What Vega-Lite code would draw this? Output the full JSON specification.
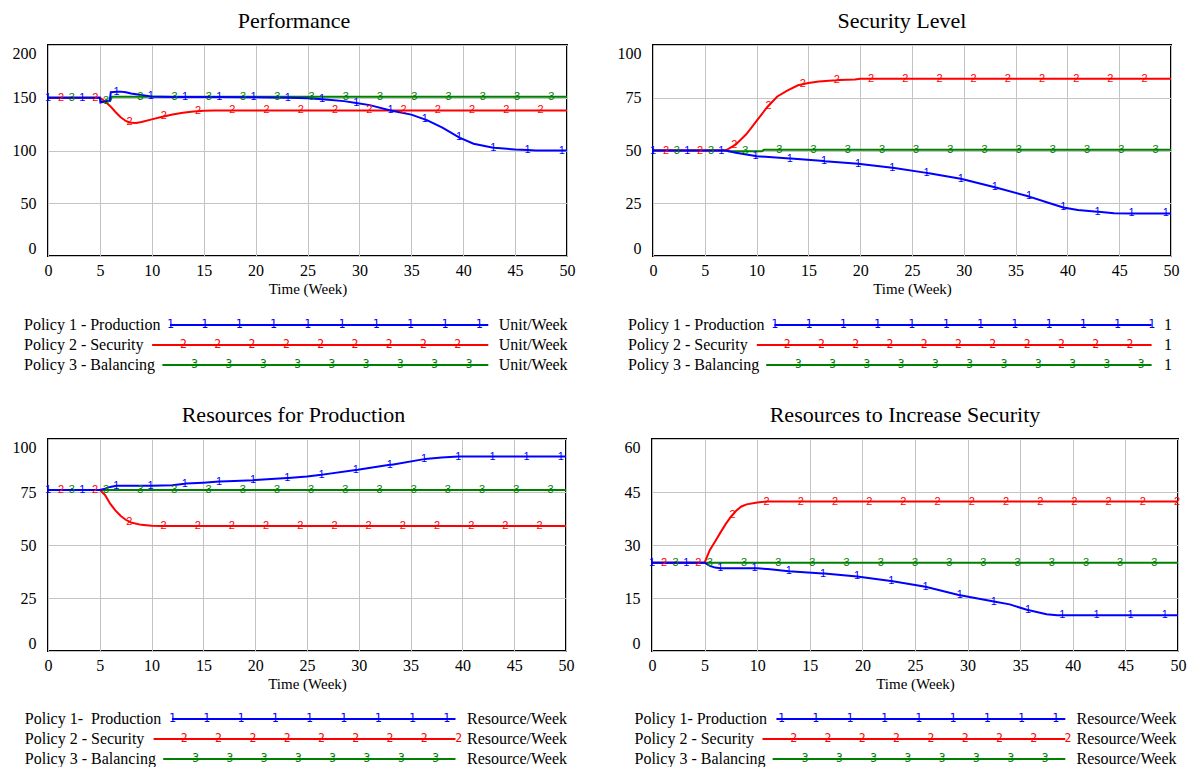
{
  "$schema": "https://vega.github.io/schema/vega-lite/v6.json",
  "padding": {"top": 9, "left": 0, "right": 0, "bottom": 0},
  "background": "white",
  "spacing": 19,
  "datasets": {
    "ts": [
      {"p":"A","s":"1","t":0,"v":150,"m":0},{"p":"A","s":"1","t":5,"v":150,"m":0},{"p":"A","s":"1","t":5.05,"v":145.5,"m":0},{"p":"A","s":"1","t":5.95,"v":147.5,"m":0},{"p":"A","s":"1","t":6.05,"v":155.3,"m":0},{"p":"A","s":"1","t":7,"v":155.8,"m":0},{"p":"A","s":"1","t":7.5,"v":155.2,"m":0},{"p":"A","s":"1","t":8,"v":154,"m":0},{"p":"A","s":"1","t":9,"v":152.5,"m":0},{"p":"A","s":"1","t":10,"v":151.2,"m":0},{"p":"A","s":"1","t":12,"v":150.8,"m":0},{"p":"A","s":"1","t":20,"v":150.5,"m":0},{"p":"A","s":"1","t":23,"v":150,"m":0},{"p":"A","s":"1","t":25,"v":149.6,"m":0},{"p":"A","s":"1","t":27,"v":148,"m":0},{"p":"A","s":"1","t":28.5,"v":146.8,"m":0},{"p":"A","s":"1","t":31,"v":143,"m":0},{"p":"A","s":"1","t":33,"v":138,"m":0},{"p":"A","s":"1","t":35,"v":134,"m":0},{"p":"A","s":"1","t":36.5,"v":128.8,"m":0},{"p":"A","s":"1","t":38,"v":121.7,"m":0},{"p":"A","s":"1","t":39.7,"v":112,"m":0},{"p":"A","s":"1","t":41,"v":106.4,"m":0},{"p":"A","s":"1","t":43,"v":102.5,"m":0},{"p":"A","s":"1","t":45,"v":101,"m":0},{"p":"A","s":"1","t":47,"v":100,"m":0},{"p":"A","s":"1","t":50,"v":100,"m":0},
      {"p":"A","s":"1","t":0,"v":150,"m":1},{"p":"A","s":"1","t":3.3,"v":150,"m":1},{"p":"A","s":"1","t":6.6,"v":155.6,"m":1},{"p":"A","s":"1","t":9.9,"v":151.3,"m":1},{"p":"A","s":"1","t":13.2,"v":150.8,"m":1},{"p":"A","s":"1","t":16.5,"v":150.6,"m":1},{"p":"A","s":"1","t":19.8,"v":150.5,"m":1},{"p":"A","s":"1","t":23.1,"v":150,"m":1},{"p":"A","s":"1","t":26.4,"v":148.5,"m":1},{"p":"A","s":"1","t":29.7,"v":145,"m":1},{"p":"A","s":"1","t":33,"v":138,"m":1},{"p":"A","s":"1","t":36.3,"v":129.5,"m":1},{"p":"A","s":"1","t":39.6,"v":112.5,"m":1},{"p":"A","s":"1","t":42.9,"v":102.6,"m":1},{"p":"A","s":"1","t":46.2,"v":100.5,"m":1},{"p":"A","s":"1","t":49.5,"v":100,"m":1},
      {"p":"A","s":"2","t":0,"v":150,"m":0},{"p":"A","s":"2","t":5,"v":150,"m":0},{"p":"A","s":"2","t":5.5,"v":146.5,"m":0},{"p":"A","s":"2","t":6,"v":142,"m":0},{"p":"A","s":"2","t":6.5,"v":136.5,"m":0},{"p":"A","s":"2","t":7,"v":131.5,"m":0},{"p":"A","s":"2","t":7.5,"v":128,"m":0},{"p":"A","s":"2","t":8,"v":126.2,"m":0},{"p":"A","s":"2","t":8.5,"v":126,"m":0},{"p":"A","s":"2","t":9,"v":127,"m":0},{"p":"A","s":"2","t":10,"v":129.5,"m":0},{"p":"A","s":"2","t":11,"v":132,"m":0},{"p":"A","s":"2","t":12,"v":134.2,"m":0},{"p":"A","s":"2","t":13,"v":135.8,"m":0},{"p":"A","s":"2","t":14,"v":137,"m":0},{"p":"A","s":"2","t":15,"v":137.7,"m":0},{"p":"A","s":"2","t":16,"v":138,"m":0},{"p":"A","s":"2","t":50,"v":138,"m":0},
      {"p":"A","s":"2","t":1.25,"v":150,"m":1},{"p":"A","s":"2","t":4.55,"v":150,"m":1},{"p":"A","s":"2","t":7.85,"v":126.6,"m":1},{"p":"A","s":"2","t":11.15,"v":132.3,"m":1},{"p":"A","s":"2","t":14.45,"v":137.3,"m":1},{"p":"A","s":"2","t":17.75,"v":138,"m":1},{"p":"A","s":"2","t":21.05,"v":138,"m":1},{"p":"A","s":"2","t":24.35,"v":138,"m":1},{"p":"A","s":"2","t":27.65,"v":138,"m":1},{"p":"A","s":"2","t":30.95,"v":138,"m":1},{"p":"A","s":"2","t":34.25,"v":138,"m":1},{"p":"A","s":"2","t":37.55,"v":138,"m":1},{"p":"A","s":"2","t":40.85,"v":138,"m":1},{"p":"A","s":"2","t":44.15,"v":138,"m":1},{"p":"A","s":"2","t":47.45,"v":138,"m":1},
      {"p":"A","s":"3","t":0,"v":150,"m":0},{"p":"A","s":"3","t":5,"v":150,"m":0},{"p":"A","s":"3","t":5.1,"v":146,"m":0},{"p":"A","s":"3","t":6,"v":147,"m":0},{"p":"A","s":"3","t":6.15,"v":151,"m":0},{"p":"A","s":"3","t":50,"v":151,"m":0},
      {"p":"A","s":"3","t":2.3,"v":150,"m":1},{"p":"A","s":"3","t":5.6,"v":146.6,"m":1},{"p":"A","s":"3","t":8.9,"v":151,"m":1},{"p":"A","s":"3","t":12.2,"v":151,"m":1},{"p":"A","s":"3","t":15.5,"v":151,"m":1},{"p":"A","s":"3","t":18.8,"v":151,"m":1},{"p":"A","s":"3","t":22.1,"v":151,"m":1},{"p":"A","s":"3","t":25.4,"v":151,"m":1},{"p":"A","s":"3","t":28.7,"v":151,"m":1},{"p":"A","s":"3","t":32,"v":151,"m":1},{"p":"A","s":"3","t":35.3,"v":151,"m":1},{"p":"A","s":"3","t":38.6,"v":151,"m":1},{"p":"A","s":"3","t":41.9,"v":151,"m":1},{"p":"A","s":"3","t":45.2,"v":151,"m":1},{"p":"A","s":"3","t":48.5,"v":151,"m":1},

      {"p":"B","s":"1","t":0,"v":50,"m":0},{"p":"B","s":"1","t":7,"v":50,"m":0},{"p":"B","s":"1","t":8,"v":48.9,"m":0},{"p":"B","s":"1","t":10,"v":47.3,"m":0},{"p":"B","s":"1","t":13.3,"v":46.2,"m":0},{"p":"B","s":"1","t":16.6,"v":44.9,"m":0},{"p":"B","s":"1","t":20,"v":43.6,"m":0},{"p":"B","s":"1","t":23.3,"v":41.7,"m":0},{"p":"B","s":"1","t":26.5,"v":39.3,"m":0},{"p":"B","s":"1","t":30,"v":36.3,"m":0},{"p":"B","s":"1","t":33.1,"v":32.5,"m":0},{"p":"B","s":"1","t":36.4,"v":28,"m":0},{"p":"B","s":"1","t":38,"v":25.5,"m":0},{"p":"B","s":"1","t":39.6,"v":23,"m":0},{"p":"B","s":"1","t":41,"v":21.8,"m":0},{"p":"B","s":"1","t":43,"v":21,"m":0},{"p":"B","s":"1","t":44.5,"v":20.3,"m":0},{"p":"B","s":"1","t":50,"v":20.2,"m":0},
      {"p":"B","s":"1","t":0,"v":50,"m":1},{"p":"B","s":"1","t":3.3,"v":50,"m":1},{"p":"B","s":"1","t":6.6,"v":50,"m":1},{"p":"B","s":"1","t":9.9,"v":47.4,"m":1},{"p":"B","s":"1","t":13.2,"v":46.2,"m":1},{"p":"B","s":"1","t":16.5,"v":45,"m":1},{"p":"B","s":"1","t":19.8,"v":43.7,"m":1},{"p":"B","s":"1","t":23.1,"v":41.8,"m":1},{"p":"B","s":"1","t":26.4,"v":39.4,"m":1},{"p":"B","s":"1","t":29.7,"v":36.6,"m":1},{"p":"B","s":"1","t":33,"v":32.6,"m":1},{"p":"B","s":"1","t":36.3,"v":28.2,"m":1},{"p":"B","s":"1","t":39.6,"v":23,"m":1},{"p":"B","s":"1","t":42.9,"v":21,"m":1},{"p":"B","s":"1","t":46.2,"v":20.2,"m":1},{"p":"B","s":"1","t":49.5,"v":20.2,"m":1},
      {"p":"B","s":"2","t":0,"v":50,"m":0},{"p":"B","s":"2","t":7,"v":50,"m":0},{"p":"B","s":"2","t":8,"v":52.9,"m":0},{"p":"B","s":"2","t":9,"v":57.7,"m":0},{"p":"B","s":"2","t":10,"v":64,"m":0},{"p":"B","s":"2","t":11,"v":70.4,"m":0},{"p":"B","s":"2","t":12,"v":75.6,"m":0},{"p":"B","s":"2","t":13,"v":78.5,"m":0},{"p":"B","s":"2","t":14,"v":80.9,"m":0},{"p":"B","s":"2","t":15,"v":82,"m":0},{"p":"B","s":"2","t":16,"v":82.7,"m":0},{"p":"B","s":"2","t":17,"v":83.1,"m":0},{"p":"B","s":"2","t":18,"v":83.4,"m":0},{"p":"B","s":"2","t":19.5,"v":83.6,"m":0},{"p":"B","s":"2","t":20,"v":84,"m":0},{"p":"B","s":"2","t":50,"v":84,"m":0},
      {"p":"B","s":"2","t":1.25,"v":50,"m":1},{"p":"B","s":"2","t":4.55,"v":50,"m":1},{"p":"B","s":"2","t":7.85,"v":52.4,"m":1},{"p":"B","s":"2","t":11.15,"v":71.2,"m":1},{"p":"B","s":"2","t":14.45,"v":81.4,"m":1},{"p":"B","s":"2","t":17.75,"v":83.3,"m":1},{"p":"B","s":"2","t":21.05,"v":84,"m":1},{"p":"B","s":"2","t":24.35,"v":84,"m":1},{"p":"B","s":"2","t":27.65,"v":84,"m":1},{"p":"B","s":"2","t":30.95,"v":84,"m":1},{"p":"B","s":"2","t":34.25,"v":84,"m":1},{"p":"B","s":"2","t":37.55,"v":84,"m":1},{"p":"B","s":"2","t":40.85,"v":84,"m":1},{"p":"B","s":"2","t":44.15,"v":84,"m":1},{"p":"B","s":"2","t":47.45,"v":84,"m":1},
      {"p":"B","s":"3","t":0,"v":50,"m":0},{"p":"B","s":"3","t":7,"v":50,"m":0},{"p":"B","s":"3","t":7.3,"v":49.6,"m":0},{"p":"B","s":"3","t":10.5,"v":49.6,"m":0},{"p":"B","s":"3","t":10.7,"v":50.3,"m":0},{"p":"B","s":"3","t":50,"v":50.3,"m":0},
      {"p":"B","s":"3","t":2.3,"v":50,"m":1},{"p":"B","s":"3","t":5.6,"v":50,"m":1},{"p":"B","s":"3","t":8.9,"v":49.6,"m":1},{"p":"B","s":"3","t":12.2,"v":50.3,"m":1},{"p":"B","s":"3","t":15.5,"v":50.3,"m":1},{"p":"B","s":"3","t":18.8,"v":50.3,"m":1},{"p":"B","s":"3","t":22.1,"v":50.3,"m":1},{"p":"B","s":"3","t":25.4,"v":50.3,"m":1},{"p":"B","s":"3","t":28.7,"v":50.3,"m":1},{"p":"B","s":"3","t":32,"v":50.3,"m":1},{"p":"B","s":"3","t":35.3,"v":50.3,"m":1},{"p":"B","s":"3","t":38.6,"v":50.3,"m":1},{"p":"B","s":"3","t":41.9,"v":50.3,"m":1},{"p":"B","s":"3","t":45.2,"v":50.3,"m":1},{"p":"B","s":"3","t":48.5,"v":50.3,"m":1},

      {"p":"C","s":"1","t":0,"v":76,"m":0},{"p":"C","s":"1","t":5,"v":76,"m":0},{"p":"C","s":"1","t":5.5,"v":76.6,"m":0},{"p":"C","s":"1","t":6,"v":77.4,"m":0},{"p":"C","s":"1","t":6.6,"v":77.9,"m":0},{"p":"C","s":"1","t":10,"v":78,"m":0},{"p":"C","s":"1","t":12,"v":78.2,"m":0},{"p":"C","s":"1","t":13.3,"v":79,"m":0},{"p":"C","s":"1","t":15,"v":79.4,"m":0},{"p":"C","s":"1","t":16.6,"v":79.9,"m":0},{"p":"C","s":"1","t":18,"v":80.2,"m":0},{"p":"C","s":"1","t":20,"v":80.7,"m":0},{"p":"C","s":"1","t":23.2,"v":81.6,"m":0},{"p":"C","s":"1","t":25,"v":82.3,"m":0},{"p":"C","s":"1","t":26.5,"v":83.2,"m":0},{"p":"C","s":"1","t":29.9,"v":85.5,"m":0},{"p":"C","s":"1","t":33.2,"v":87.9,"m":0},{"p":"C","s":"1","t":36.4,"v":90.6,"m":0},{"p":"C","s":"1","t":38,"v":91.3,"m":0},{"p":"C","s":"1","t":39.7,"v":91.7,"m":0},{"p":"C","s":"1","t":50,"v":91.7,"m":0},
      {"p":"C","s":"1","t":0,"v":76,"m":1},{"p":"C","s":"1","t":3.3,"v":76,"m":1},{"p":"C","s":"1","t":6.6,"v":77.9,"m":1},{"p":"C","s":"1","t":9.9,"v":78,"m":1},{"p":"C","s":"1","t":13.2,"v":78.9,"m":1},{"p":"C","s":"1","t":16.5,"v":79.9,"m":1},{"p":"C","s":"1","t":19.8,"v":80.6,"m":1},{"p":"C","s":"1","t":23.1,"v":81.6,"m":1},{"p":"C","s":"1","t":26.4,"v":83.1,"m":1},{"p":"C","s":"1","t":29.7,"v":85.4,"m":1},{"p":"C","s":"1","t":33,"v":87.8,"m":1},{"p":"C","s":"1","t":36.3,"v":90.5,"m":1},{"p":"C","s":"1","t":39.6,"v":91.7,"m":1},{"p":"C","s":"1","t":42.9,"v":91.7,"m":1},{"p":"C","s":"1","t":46.2,"v":91.7,"m":1},{"p":"C","s":"1","t":49.5,"v":91.7,"m":1},
      {"p":"C","s":"2","t":0,"v":76,"m":0},{"p":"C","s":"2","t":5,"v":76,"m":0},{"p":"C","s":"2","t":5.5,"v":73.6,"m":0},{"p":"C","s":"2","t":6,"v":69.5,"m":0},{"p":"C","s":"2","t":6.5,"v":66.3,"m":0},{"p":"C","s":"2","t":7,"v":63.8,"m":0},{"p":"C","s":"2","t":7.5,"v":61.9,"m":0},{"p":"C","s":"2","t":8,"v":60.6,"m":0},{"p":"C","s":"2","t":9,"v":59.5,"m":0},{"p":"C","s":"2","t":10,"v":59.1,"m":0},{"p":"C","s":"2","t":11,"v":59,"m":0},{"p":"C","s":"2","t":50,"v":59,"m":0},
      {"p":"C","s":"2","t":1.25,"v":76,"m":1},{"p":"C","s":"2","t":4.55,"v":76,"m":1},{"p":"C","s":"2","t":7.85,"v":61,"m":1},{"p":"C","s":"2","t":11.15,"v":59,"m":1},{"p":"C","s":"2","t":14.45,"v":59,"m":1},{"p":"C","s":"2","t":17.75,"v":59,"m":1},{"p":"C","s":"2","t":21.05,"v":59,"m":1},{"p":"C","s":"2","t":24.35,"v":59,"m":1},{"p":"C","s":"2","t":27.65,"v":59,"m":1},{"p":"C","s":"2","t":30.95,"v":59,"m":1},{"p":"C","s":"2","t":34.25,"v":59,"m":1},{"p":"C","s":"2","t":37.55,"v":59,"m":1},{"p":"C","s":"2","t":40.85,"v":59,"m":1},{"p":"C","s":"2","t":44.15,"v":59,"m":1},{"p":"C","s":"2","t":47.45,"v":59,"m":1},
      {"p":"C","s":"3","t":0,"v":76,"m":0},{"p":"C","s":"3","t":50,"v":76,"m":0},
      {"p":"C","s":"3","t":2.3,"v":76,"m":1},{"p":"C","s":"3","t":5.6,"v":76,"m":1},{"p":"C","s":"3","t":8.9,"v":76,"m":1},{"p":"C","s":"3","t":12.2,"v":76,"m":1},{"p":"C","s":"3","t":15.5,"v":76,"m":1},{"p":"C","s":"3","t":18.8,"v":76,"m":1},{"p":"C","s":"3","t":22.1,"v":76,"m":1},{"p":"C","s":"3","t":25.4,"v":76,"m":1},{"p":"C","s":"3","t":28.7,"v":76,"m":1},{"p":"C","s":"3","t":32,"v":76,"m":1},{"p":"C","s":"3","t":35.3,"v":76,"m":1},{"p":"C","s":"3","t":38.6,"v":76,"m":1},{"p":"C","s":"3","t":41.9,"v":76,"m":1},{"p":"C","s":"3","t":45.2,"v":76,"m":1},{"p":"C","s":"3","t":48.5,"v":76,"m":1},

      {"p":"D","s":"1","t":0,"v":25,"m":0},{"p":"D","s":"1","t":5,"v":25,"m":0},{"p":"D","s":"1","t":5.5,"v":24.1,"m":0},{"p":"D","s":"1","t":6,"v":23.6,"m":0},{"p":"D","s":"1","t":6.6,"v":23.4,"m":0},{"p":"D","s":"1","t":10,"v":23.4,"m":0},{"p":"D","s":"1","t":11,"v":23.2,"m":0},{"p":"D","s":"1","t":13,"v":22.6,"m":0},{"p":"D","s":"1","t":16.4,"v":21.9,"m":0},{"p":"D","s":"1","t":19.5,"v":21.1,"m":0},{"p":"D","s":"1","t":22.7,"v":19.8,"m":0},{"p":"D","s":"1","t":26,"v":18.2,"m":0},{"p":"D","s":"1","t":29.3,"v":15.8,"m":0},{"p":"D","s":"1","t":32.5,"v":14,"m":0},{"p":"D","s":"1","t":34,"v":13.2,"m":0},{"p":"D","s":"1","t":35.7,"v":11.6,"m":0},{"p":"D","s":"1","t":37.5,"v":10.4,"m":0},{"p":"D","s":"1","t":38.5,"v":10.1,"m":0},{"p":"D","s":"1","t":50,"v":10.1,"m":0},
      {"p":"D","s":"1","t":0,"v":25,"m":1},{"p":"D","s":"1","t":3.25,"v":25,"m":1},{"p":"D","s":"1","t":6.5,"v":23.4,"m":1},{"p":"D","s":"1","t":9.75,"v":23.4,"m":1},{"p":"D","s":"1","t":13,"v":22.6,"m":1},{"p":"D","s":"1","t":16.25,"v":21.9,"m":1},{"p":"D","s":"1","t":19.5,"v":21.1,"m":1},{"p":"D","s":"1","t":22.75,"v":19.8,"m":1},{"p":"D","s":"1","t":26,"v":18.2,"m":1},{"p":"D","s":"1","t":29.25,"v":15.8,"m":1},{"p":"D","s":"1","t":32.5,"v":14,"m":1},{"p":"D","s":"1","t":35.75,"v":11.6,"m":1},{"p":"D","s":"1","t":39,"v":10.1,"m":1},{"p":"D","s":"1","t":42.25,"v":10.1,"m":1},{"p":"D","s":"1","t":45.5,"v":10.1,"m":1},{"p":"D","s":"1","t":48.75,"v":10.1,"m":1},
      {"p":"D","s":"2","t":0,"v":25,"m":0},{"p":"D","s":"2","t":5,"v":25,"m":0},{"p":"D","s":"2","t":5.5,"v":28.6,"m":0},{"p":"D","s":"2","t":6,"v":31,"m":0},{"p":"D","s":"2","t":6.5,"v":33.5,"m":0},{"p":"D","s":"2","t":7,"v":35.9,"m":0},{"p":"D","s":"2","t":7.5,"v":38,"m":0},{"p":"D","s":"2","t":8,"v":39.7,"m":0},{"p":"D","s":"2","t":8.5,"v":40.9,"m":0},{"p":"D","s":"2","t":9,"v":41.5,"m":0},{"p":"D","s":"2","t":10,"v":42,"m":0},{"p":"D","s":"2","t":11,"v":42.3,"m":0},{"p":"D","s":"2","t":50,"v":42.3,"m":0},
      {"p":"D","s":"2","t":1.15,"v":25,"m":1},{"p":"D","s":"2","t":4.4,"v":25,"m":1},{"p":"D","s":"2","t":7.65,"v":38.5,"m":1},{"p":"D","s":"2","t":10.9,"v":42.3,"m":1},{"p":"D","s":"2","t":14.15,"v":42.3,"m":1},{"p":"D","s":"2","t":17.4,"v":42.3,"m":1},{"p":"D","s":"2","t":20.65,"v":42.3,"m":1},{"p":"D","s":"2","t":23.9,"v":42.3,"m":1},{"p":"D","s":"2","t":27.15,"v":42.3,"m":1},{"p":"D","s":"2","t":30.4,"v":42.3,"m":1},{"p":"D","s":"2","t":33.65,"v":42.3,"m":1},{"p":"D","s":"2","t":36.9,"v":42.3,"m":1},{"p":"D","s":"2","t":40.15,"v":42.3,"m":1},{"p":"D","s":"2","t":43.4,"v":42.3,"m":1},{"p":"D","s":"2","t":46.65,"v":42.3,"m":1},{"p":"D","s":"2","t":49.9,"v":42.3,"m":1},
      {"p":"D","s":"3","t":0,"v":25,"m":0},{"p":"D","s":"3","t":50,"v":25,"m":0},
      {"p":"D","s":"3","t":2.25,"v":25,"m":1},{"p":"D","s":"3","t":5.5,"v":25,"m":1},{"p":"D","s":"3","t":8.75,"v":25,"m":1},{"p":"D","s":"3","t":12,"v":25,"m":1},{"p":"D","s":"3","t":15.25,"v":25,"m":1},{"p":"D","s":"3","t":18.5,"v":25,"m":1},{"p":"D","s":"3","t":21.75,"v":25,"m":1},{"p":"D","s":"3","t":25,"v":25,"m":1},{"p":"D","s":"3","t":28.25,"v":25,"m":1},{"p":"D","s":"3","t":31.5,"v":25,"m":1},{"p":"D","s":"3","t":34.75,"v":25,"m":1},{"p":"D","s":"3","t":38,"v":25,"m":1},{"p":"D","s":"3","t":41.25,"v":25,"m":1},{"p":"D","s":"3","t":44.5,"v":25,"m":1},{"p":"D","s":"3","t":47.75,"v":25,"m":1}
    ],
    "leg": [
      {"p":"A","s":"1","label":"Policy 1 - Production","unit":"Unit/Week"},
      {"p":"A","s":"2","label":"Policy 2 - Security","unit":"Unit/Week"},
      {"p":"A","s":"3","label":"Policy 3 - Balancing","unit":"Unit/Week"},
      {"p":"B","s":"1","label":"Policy 1 - Production","unit":"1"},
      {"p":"B","s":"2","label":"Policy 2 - Security","unit":"1"},
      {"p":"B","s":"3","label":"Policy 3 - Balancing","unit":"1"},
      {"p":"C","s":"1","label":"Policy 1-\u00a0 Production","unit":"Resource/Week"},
      {"p":"C","s":"2","label":"Policy 2 - Security","unit":"Resource/Week"},
      {"p":"C","s":"3","label":"Policy 3 - Balancing","unit":"Resource/Week"},
      {"p":"D","s":"1","label":"Policy 1- Production","unit":"Resource/Week"},
      {"p":"D","s":"2","label":"Policy 2 - Security","unit":"Resource/Week"},
      {"p":"D","s":"3","label":"Policy 3 - Balancing","unit":"Resource/Week"}
    ]
  },
  "vconcat": [
    {
      "hconcat": [
        {
          "data": {"name": "ts"},
          "transform": [{"filter": "datum.p == 'A'"}],
          "width": 519, "height": 211,
          "title": "Performance",
          "encoding": {
            "x": {"field": "t", "type": "quantitative", "scale": {"domain": [0, 50], "nice": false}, "axis": {"values": [0,5,10,15,20,25,30,35,40,45,50], "title": "Time (Week)"}},
            "y": {"field": "v", "type": "quantitative", "scale": {"domain": [0, 200], "nice": false}, "axis": {"values": [0,50,100,150,200], "title": null, "minExtent": 47, "maxExtent": 47}},
            "color": {"field": "s", "type": "nominal", "scale": {"domain": ["1","2","3"], "range": ["#0000ff","#ff0000","#008000"]}, "legend": null}
          },
          "layer": [
            {"transform": [{"filter": "datum.s == '3'"}], "mark": {"type": "line", "strokeWidth": 2}},
            {"transform": [{"filter": "datum.s == '2'"}], "mark": {"type": "line", "strokeWidth": 2}},
            {"transform": [{"filter": "datum.s == '1'"}], "mark": {"type": "line", "strokeWidth": 2}},
            {"transform": [{"filter": "datum.m == 1"}], "mark": {"type": "text", "font": "Liberation Sans", "fontSize": 11, "baseline": "middle", "align": "center"}, "encoding": {"text": {"field": "s"}}}
          ]
        },
        {
          "data": {"name": "ts"},
          "transform": [{"filter": "datum.p == 'B'"}],
          "width": 518, "height": 211,
          "title": "Security Level",
          "encoding": {
            "x": {"field": "t", "type": "quantitative", "scale": {"domain": [0, 50], "nice": false}, "axis": {"values": [0,5,10,15,20,25,30,35,40,45,50], "title": "Time (Week)"}},
            "y": {"field": "v", "type": "quantitative", "scale": {"domain": [0, 100], "nice": false}, "axis": {"values": [0,25,50,75,100], "title": null, "minExtent": 40, "maxExtent": 40}},
            "color": {"field": "s", "type": "nominal", "scale": {"domain": ["1","2","3"], "range": ["#0000ff","#ff0000","#008000"]}, "legend": null}
          },
          "layer": [
            {"transform": [{"filter": "datum.s == '3'"}], "mark": {"type": "line", "strokeWidth": 2}},
            {"transform": [{"filter": "datum.s == '2'"}], "mark": {"type": "line", "strokeWidth": 2}},
            {"transform": [{"filter": "datum.s == '1'"}], "mark": {"type": "line", "strokeWidth": 2}},
            {"transform": [{"filter": "datum.m == 1"}], "mark": {"type": "text", "font": "Liberation Sans", "fontSize": 11, "baseline": "middle", "align": "center"}, "encoding": {"text": {"field": "s"}}}
          ]
        }
      ],
      "spacing": 36
    },
    {
      "data": {"name": "leg"},
      "width": 1141, "height": 68,
      "view": {"stroke": null},
      "encoding": {
        "y": {"field": "s", "type": "nominal", "scale": {"type": "point", "domain": ["1","2","3"], "range": [9, 49], "padding": 0}, "axis": null}
      },
      "layer": [
        {"transform": [{"filter": "datum.p == 'A'"}], "mark": {"type": "text", "align": "left", "baseline": "middle", "font": "Liberation Serif", "fontSize": 16, "color": "#000"}, "encoding": {"x": {"datum": 24, "type": "quantitative", "scale": {"domain": [0, 1189], "range": [-48, 1141], "nice": false, "zero": false}, "axis": null}, "text": {"field": "label"}}},
        {"transform": [{"filter": "datum.p == 'A'"}], "mark": {"type": "text", "align": "left", "baseline": "middle", "font": "Liberation Serif", "fontSize": 16, "color": "#000"}, "encoding": {"x": {"datum": 498.7, "type": "quantitative", "scale": {"domain": [0, 1189], "range": [-48, 1141], "nice": false, "zero": false}, "axis": null}, "text": {"field": "unit"}}},
        {"transform": [{"filter": "datum.p == 'A' && datum.s == '1'"}], "mark": {"type": "rule", "color": "#0000ff", "strokeWidth": 2}, "encoding": {"x": {"datum": 170, "type": "quantitative", "scale": {"domain": [0, 1189], "range": [-48, 1141], "nice": false, "zero": false}, "axis": null}, "x2": {"datum": 488.3}}},
        {"transform": [{"filter": "datum.p == 'A' && datum.s == '2'"}], "mark": {"type": "rule", "color": "#ff0000", "strokeWidth": 2}, "encoding": {"x": {"datum": 152.1, "type": "quantitative", "scale": {"domain": [0, 1189], "range": [-48, 1141], "nice": false, "zero": false}, "axis": null}, "x2": {"datum": 488.3}}},
        {"transform": [{"filter": "datum.p == 'A' && datum.s == '3'"}], "mark": {"type": "rule", "color": "#008000", "strokeWidth": 2}, "encoding": {"x": {"datum": 162.4, "type": "quantitative", "scale": {"domain": [0, 1189], "range": [-48, 1141], "nice": false, "zero": false}, "axis": null}, "x2": {"datum": 488.3}}},
        {"transform": [{"filter": "datum.p == 'A' && datum.s == '1'"}], "mark": {"type": "text", "text": "1\u00a0\u00a0\u00a0\u00a01\u00a0\u00a0\u00a0\u00a01\u00a0\u00a0\u00a0\u00a01\u00a0\u00a0\u00a0\u00a01\u00a0\u00a0\u00a0\u00a01\u00a0\u00a0\u00a0\u00a01\u00a0\u00a0\u00a0\u00a01\u00a0\u00a0\u00a0\u00a01\u00a0\u00a0\u00a0\u00a01", "font": "DejaVu Sans Mono", "fontSize": 11.4, "color": "#0000ff", "align": "center", "baseline": "middle"}, "encoding": {"x": {"datum": 324.8, "type": "quantitative", "scale": {"domain": [0, 1189], "range": [-48, 1141], "nice": false, "zero": false}, "axis": null}}},
        {"transform": [{"filter": "datum.p == 'A' && datum.s == '2'"}], "mark": {"type": "text", "text": "2\u00a0\u00a0\u00a0\u00a02\u00a0\u00a0\u00a0\u00a02\u00a0\u00a0\u00a0\u00a02\u00a0\u00a0\u00a0\u00a02\u00a0\u00a0\u00a0\u00a02\u00a0\u00a0\u00a0\u00a02\u00a0\u00a0\u00a0\u00a02\u00a0\u00a0\u00a0\u00a02", "font": "DejaVu Sans Mono", "fontSize": 11.4, "color": "#ff0000", "align": "center", "baseline": "middle"}, "encoding": {"x": {"datum": 320.6, "type": "quantitative", "scale": {"domain": [0, 1189], "range": [-48, 1141], "nice": false, "zero": false}, "axis": null}}},
        {"transform": [{"filter": "datum.p == 'A' && datum.s == '3'"}], "mark": {"type": "text", "text": "3\u00a0\u00a0\u00a0\u00a03\u00a0\u00a0\u00a0\u00a03\u00a0\u00a0\u00a0\u00a03\u00a0\u00a0\u00a0\u00a03\u00a0\u00a0\u00a0\u00a03\u00a0\u00a0\u00a0\u00a03\u00a0\u00a0\u00a0\u00a03\u00a0\u00a0\u00a0\u00a03", "font": "DejaVu Sans Mono", "fontSize": 11.4, "color": "#008000", "align": "center", "baseline": "middle"}, "encoding": {"x": {"datum": 331.9, "type": "quantitative", "scale": {"domain": [0, 1189], "range": [-48, 1141], "nice": false, "zero": false}, "axis": null}}},
        {"transform": [{"filter": "datum.p == 'B'"}], "mark": {"type": "text", "align": "left", "baseline": "middle", "font": "Liberation Serif", "fontSize": 16, "color": "#000"}, "encoding": {"x": {"datum": 628.1, "type": "quantitative", "scale": {"domain": [0, 1189], "range": [-48, 1141], "nice": false, "zero": false}, "axis": null}, "text": {"field": "label"}}},
        {"transform": [{"filter": "datum.p == 'B'"}], "mark": {"type": "text", "align": "left", "baseline": "middle", "font": "Liberation Serif", "fontSize": 16, "color": "#000"}, "encoding": {"x": {"datum": 1164, "type": "quantitative", "scale": {"domain": [0, 1189], "range": [-48, 1141], "nice": false, "zero": false}, "axis": null}, "text": {"field": "unit"}}},
        {"transform": [{"filter": "datum.p == 'B' && datum.s == '1'"}], "mark": {"type": "rule", "color": "#0000ff", "strokeWidth": 2}, "encoding": {"x": {"datum": 774.5, "type": "quantitative", "scale": {"domain": [0, 1189], "range": [-48, 1141], "nice": false, "zero": false}, "axis": null}, "x2": {"datum": 1151.6}}},
        {"transform": [{"filter": "datum.p == 'B' && datum.s == '2'"}], "mark": {"type": "rule", "color": "#ff0000", "strokeWidth": 2}, "encoding": {"x": {"datum": 756.8, "type": "quantitative", "scale": {"domain": [0, 1189], "range": [-48, 1141], "nice": false, "zero": false}, "axis": null}, "x2": {"datum": 1151.6}}},
        {"transform": [{"filter": "datum.p == 'B' && datum.s == '3'"}], "mark": {"type": "rule", "color": "#008000", "strokeWidth": 2}, "encoding": {"x": {"datum": 766.2, "type": "quantitative", "scale": {"domain": [0, 1189], "range": [-48, 1141], "nice": false, "zero": false}, "axis": null}, "x2": {"datum": 1151.6}}},
        {"transform": [{"filter": "datum.p == 'B' && datum.s == '1'"}], "mark": {"type": "text", "text": "1\u00a0\u00a0\u00a0\u00a01\u00a0\u00a0\u00a0\u00a01\u00a0\u00a0\u00a0\u00a01\u00a0\u00a0\u00a0\u00a01\u00a0\u00a0\u00a0\u00a01\u00a0\u00a0\u00a0\u00a01\u00a0\u00a0\u00a0\u00a01\u00a0\u00a0\u00a0\u00a01\u00a0\u00a0\u00a0\u00a01\u00a0\u00a0\u00a0\u00a01\u00a0\u00a0\u00a0\u00a01", "font": "DejaVu Sans Mono", "fontSize": 11.4, "color": "#0000ff", "align": "center", "baseline": "middle"}, "encoding": {"x": {"datum": 963.2, "type": "quantitative", "scale": {"domain": [0, 1189], "range": [-48, 1141], "nice": false, "zero": false}, "axis": null}}},
        {"transform": [{"filter": "datum.p == 'B' && datum.s == '2'"}], "mark": {"type": "text", "text": "2\u00a0\u00a0\u00a0\u00a02\u00a0\u00a0\u00a0\u00a02\u00a0\u00a0\u00a0\u00a02\u00a0\u00a0\u00a0\u00a02\u00a0\u00a0\u00a0\u00a02\u00a0\u00a0\u00a0\u00a02\u00a0\u00a0\u00a0\u00a02\u00a0\u00a0\u00a0\u00a02\u00a0\u00a0\u00a0\u00a02\u00a0\u00a0\u00a0\u00a02", "font": "DejaVu Sans Mono", "fontSize": 11.4, "color": "#ff0000", "align": "center", "baseline": "middle"}, "encoding": {"x": {"datum": 958.5, "type": "quantitative", "scale": {"domain": [0, 1189], "range": [-48, 1141], "nice": false, "zero": false}, "axis": null}}},
        {"transform": [{"filter": "datum.p == 'B' && datum.s == '3'"}], "mark": {"type": "text", "text": "3\u00a0\u00a0\u00a0\u00a03\u00a0\u00a0\u00a0\u00a03\u00a0\u00a0\u00a0\u00a03\u00a0\u00a0\u00a0\u00a03\u00a0\u00a0\u00a0\u00a03\u00a0\u00a0\u00a0\u00a03\u00a0\u00a0\u00a0\u00a03\u00a0\u00a0\u00a0\u00a03\u00a0\u00a0\u00a0\u00a03\u00a0\u00a0\u00a0\u00a03", "font": "DejaVu Sans Mono", "fontSize": 11.4, "color": "#008000", "align": "center", "baseline": "middle"}, "encoding": {"x": {"datum": 969.8, "type": "quantitative", "scale": {"domain": [0, 1189], "range": [-48, 1141], "nice": false, "zero": false}, "axis": null}}}
      ]
    },
    {
      "hconcat": [
        {
          "data": {"name": "ts"},
          "transform": [{"filter": "datum.p == 'C'"}],
          "width": 518, "height": 212,
          "title": "Resources for Production",
          "encoding": {
            "x": {"field": "t", "type": "quantitative", "scale": {"domain": [0, 50], "nice": false}, "axis": {"values": [0,5,10,15,20,25,30,35,40,45,50], "title": "Time (Week)"}},
            "y": {"field": "v", "type": "quantitative", "scale": {"domain": [0, 100], "nice": false}, "axis": {"values": [0,25,50,75,100], "title": null, "minExtent": 47, "maxExtent": 47}},
            "color": {"field": "s", "type": "nominal", "scale": {"domain": ["1","2","3"], "range": ["#0000ff","#ff0000","#008000"]}, "legend": null}
          },
          "layer": [
            {"transform": [{"filter": "datum.s == '3'"}], "mark": {"type": "line", "strokeWidth": 2}},
            {"transform": [{"filter": "datum.s == '2'"}], "mark": {"type": "line", "strokeWidth": 2}},
            {"transform": [{"filter": "datum.s == '1'"}], "mark": {"type": "line", "strokeWidth": 2}},
            {"transform": [{"filter": "datum.m == 1"}], "mark": {"type": "text", "font": "Liberation Sans", "fontSize": 11, "baseline": "middle", "align": "center"}, "encoding": {"text": {"field": "s"}}}
          ]
        },
        {
          "data": {"name": "ts"},
          "transform": [{"filter": "datum.p == 'D'"}],
          "width": 526, "height": 212,
          "title": "Resources to Increase Security",
          "encoding": {
            "x": {"field": "t", "type": "quantitative", "scale": {"domain": [0, 50], "nice": false}, "axis": {"values": [0,5,10,15,20,25,30,35,40,45,50], "title": "Time (Week)"}},
            "y": {"field": "v", "type": "quantitative", "scale": {"domain": [0, 60], "nice": false}, "axis": {"values": [0,15,30,45,60], "title": null, "minExtent": 40, "maxExtent": 40}},
            "color": {"field": "s", "type": "nominal", "scale": {"domain": ["1","2","3"], "range": ["#0000ff","#ff0000","#008000"]}, "legend": null}
          },
          "layer": [
            {"transform": [{"filter": "datum.s == '3'"}], "mark": {"type": "line", "strokeWidth": 2}},
            {"transform": [{"filter": "datum.s == '2'"}], "mark": {"type": "line", "strokeWidth": 2}},
            {"transform": [{"filter": "datum.s == '1'"}], "mark": {"type": "line", "strokeWidth": 2}},
            {"transform": [{"filter": "datum.m == 1"}], "mark": {"type": "text", "font": "Liberation Sans", "fontSize": 11, "baseline": "middle", "align": "center"}, "encoding": {"text": {"field": "s"}}}
          ]
        }
      ],
      "spacing": 36
    },
    {
      "data": {"name": "leg"},
      "width": 1141, "height": 52,
      "view": {"stroke": null},
      "encoding": {
        "y": {"field": "s", "type": "nominal", "scale": {"type": "point", "domain": ["1","2","3"], "range": [5, 45], "padding": 0}, "axis": null}
      },
      "layer": [
        {"transform": [{"filter": "datum.p == 'C'"}], "mark": {"type": "text", "align": "left", "baseline": "middle", "font": "Liberation Serif", "fontSize": 16, "color": "#000"}, "encoding": {"x": {"datum": 24.8, "type": "quantitative", "scale": {"domain": [0, 1189], "range": [-48, 1141], "nice": false, "zero": false}, "axis": null}, "text": {"field": "label"}}},
        {"transform": [{"filter": "datum.p == 'C'"}], "mark": {"type": "text", "align": "left", "baseline": "middle", "font": "Liberation Serif", "fontSize": 16, "color": "#000"}, "encoding": {"x": {"datum": 467, "type": "quantitative", "scale": {"domain": [0, 1189], "range": [-48, 1141], "nice": false, "zero": false}, "axis": null}, "text": {"field": "unit"}}},
        {"transform": [{"filter": "datum.p == 'C' && datum.s == '1'"}], "mark": {"type": "rule", "color": "#0000ff", "strokeWidth": 2}, "encoding": {"x": {"datum": 172, "type": "quantitative", "scale": {"domain": [0, 1189], "range": [-48, 1141], "nice": false, "zero": false}, "axis": null}, "x2": {"datum": 455.5}}},
        {"transform": [{"filter": "datum.p == 'C' && datum.s == '2'"}], "mark": {"type": "rule", "color": "#ff0000", "strokeWidth": 2}, "encoding": {"x": {"datum": 153.6, "type": "quantitative", "scale": {"domain": [0, 1189], "range": [-48, 1141], "nice": false, "zero": false}, "axis": null}, "x2": {"datum": 455.5}}},
        {"transform": [{"filter": "datum.p == 'C' && datum.s == '3'"}], "mark": {"type": "rule", "color": "#008000", "strokeWidth": 2}, "encoding": {"x": {"datum": 163.2, "type": "quantitative", "scale": {"domain": [0, 1189], "range": [-48, 1141], "nice": false, "zero": false}, "axis": null}, "x2": {"datum": 455.5}}},
        {"transform": [{"filter": "datum.p == 'C' && datum.s == '1'"}], "mark": {"type": "text", "text": "1\u00a0\u00a0\u00a0\u00a01\u00a0\u00a0\u00a0\u00a01\u00a0\u00a0\u00a0\u00a01\u00a0\u00a0\u00a0\u00a01\u00a0\u00a0\u00a0\u00a01\u00a0\u00a0\u00a0\u00a01\u00a0\u00a0\u00a0\u00a01\u00a0\u00a0\u00a0\u00a01", "font": "DejaVu Sans Mono", "fontSize": 11.4, "color": "#0000ff", "align": "center", "baseline": "middle"}, "encoding": {"x": {"datum": 309.5, "type": "quantitative", "scale": {"domain": [0, 1189], "range": [-48, 1141], "nice": false, "zero": false}, "axis": null}}},
        {"transform": [{"filter": "datum.p == 'C' && datum.s == '2'"}], "mark": {"type": "text", "text": "2\u00a0\u00a0\u00a0\u00a02\u00a0\u00a0\u00a0\u00a02\u00a0\u00a0\u00a0\u00a02\u00a0\u00a0\u00a0\u00a02\u00a0\u00a0\u00a0\u00a02\u00a0\u00a0\u00a0\u00a02\u00a0\u00a0\u00a0\u00a02\u00a0\u00a0\u00a0\u00a02", "font": "DejaVu Sans Mono", "fontSize": 11.4, "color": "#ff0000", "align": "center", "baseline": "middle"}, "encoding": {"x": {"datum": 321.4, "type": "quantitative", "scale": {"domain": [0, 1189], "range": [-48, 1141], "nice": false, "zero": false}, "axis": null}}},
        {"transform": [{"filter": "datum.p == 'C' && datum.s == '3'"}], "mark": {"type": "text", "text": "3\u00a0\u00a0\u00a0\u00a03\u00a0\u00a0\u00a0\u00a03\u00a0\u00a0\u00a0\u00a03\u00a0\u00a0\u00a0\u00a03\u00a0\u00a0\u00a0\u00a03\u00a0\u00a0\u00a0\u00a03\u00a0\u00a0\u00a0\u00a03", "font": "DejaVu Sans Mono", "fontSize": 11.4, "color": "#008000", "align": "center", "baseline": "middle"}, "encoding": {"x": {"datum": 315.6, "type": "quantitative", "scale": {"domain": [0, 1189], "range": [-48, 1141], "nice": false, "zero": false}, "axis": null}}},
        {"transform": [{"filter": "datum.p == 'D'"}], "mark": {"type": "text", "align": "left", "baseline": "middle", "font": "Liberation Serif", "fontSize": 16, "color": "#000"}, "encoding": {"x": {"datum": 634.5, "type": "quantitative", "scale": {"domain": [0, 1189], "range": [-48, 1141], "nice": false, "zero": false}, "axis": null}, "text": {"field": "label"}}},
        {"transform": [{"filter": "datum.p == 'D'"}], "mark": {"type": "text", "align": "left", "baseline": "middle", "font": "Liberation Serif", "fontSize": 16, "color": "#000"}, "encoding": {"x": {"datum": 1076.5, "type": "quantitative", "scale": {"domain": [0, 1189], "range": [-48, 1141], "nice": false, "zero": false}, "axis": null}, "text": {"field": "unit"}}},
        {"transform": [{"filter": "datum.p == 'D' && datum.s == '1'"}], "mark": {"type": "rule", "color": "#0000ff", "strokeWidth": 2}, "encoding": {"x": {"datum": 776.4, "type": "quantitative", "scale": {"domain": [0, 1189], "range": [-48, 1141], "nice": false, "zero": false}, "axis": null}, "x2": {"datum": 1065.3}}},
        {"transform": [{"filter": "datum.p == 'D' && datum.s == '2'"}], "mark": {"type": "rule", "color": "#ff0000", "strokeWidth": 2}, "encoding": {"x": {"datum": 762.5, "type": "quantitative", "scale": {"domain": [0, 1189], "range": [-48, 1141], "nice": false, "zero": false}, "axis": null}, "x2": {"datum": 1065.3}}},
        {"transform": [{"filter": "datum.p == 'D' && datum.s == '3'"}], "mark": {"type": "rule", "color": "#008000", "strokeWidth": 2}, "encoding": {"x": {"datum": 772.6, "type": "quantitative", "scale": {"domain": [0, 1189], "range": [-48, 1141], "nice": false, "zero": false}, "axis": null}, "x2": {"datum": 1065.3}}},
        {"transform": [{"filter": "datum.p == 'D' && datum.s == '1'"}], "mark": {"type": "text", "text": "1\u00a0\u00a0\u00a0\u00a01\u00a0\u00a0\u00a0\u00a01\u00a0\u00a0\u00a0\u00a01\u00a0\u00a0\u00a0\u00a01\u00a0\u00a0\u00a0\u00a01\u00a0\u00a0\u00a0\u00a01\u00a0\u00a0\u00a0\u00a01\u00a0\u00a0\u00a0\u00a01", "font": "DejaVu Sans Mono", "fontSize": 11.4, "color": "#0000ff", "align": "center", "baseline": "middle"}, "encoding": {"x": {"datum": 918.6, "type": "quantitative", "scale": {"domain": [0, 1189], "range": [-48, 1141], "nice": false, "zero": false}, "axis": null}}},
        {"transform": [{"filter": "datum.p == 'D' && datum.s == '2'"}], "mark": {"type": "text", "text": "2\u00a0\u00a0\u00a0\u00a02\u00a0\u00a0\u00a0\u00a02\u00a0\u00a0\u00a0\u00a02\u00a0\u00a0\u00a0\u00a02\u00a0\u00a0\u00a0\u00a02\u00a0\u00a0\u00a0\u00a02\u00a0\u00a0\u00a0\u00a02\u00a0\u00a0\u00a0\u00a02", "font": "DejaVu Sans Mono", "fontSize": 11.4, "color": "#ff0000", "align": "center", "baseline": "middle"}, "encoding": {"x": {"datum": 930.8, "type": "quantitative", "scale": {"domain": [0, 1189], "range": [-48, 1141], "nice": false, "zero": false}, "axis": null}}},
        {"transform": [{"filter": "datum.p == 'D' && datum.s == '3'"}], "mark": {"type": "text", "text": "3\u00a0\u00a0\u00a0\u00a03\u00a0\u00a0\u00a0\u00a03\u00a0\u00a0\u00a0\u00a03\u00a0\u00a0\u00a0\u00a03\u00a0\u00a0\u00a0\u00a03\u00a0\u00a0\u00a0\u00a03\u00a0\u00a0\u00a0\u00a03", "font": "DejaVu Sans Mono", "fontSize": 11.4, "color": "#008000", "align": "center", "baseline": "middle"}, "encoding": {"x": {"datum": 925.1, "type": "quantitative", "scale": {"domain": [0, 1189], "range": [-48, 1141], "nice": false, "zero": false}, "axis": null}}}
      ]
    }
  ],
  "config": {
    "view": {"stroke": "#000", "strokeWidth": 2},
    "axis": {
      "labelFont": "Liberation Serif", "labelFontSize": 16, "labelColor": "#000",
      "titleFont": "Liberation Serif", "titleFontSize": 15, "titleFontWeight": "normal", "titleColor": "#000",
      "ticks": false, "domain": false, "grid": true, "gridColor": "#c4c4c4", "gridWidth": 1,
      "labelOverlap": false
    },
    "axisX": {"labelFlush": false, "labelPadding": 6, "titlePadding": 3},
    "axisY": {"labelFlush": true, "labelPadding": 12},
    "title": {"font": "Liberation Serif", "fontSize": 22, "fontWeight": "normal", "color": "#000", "anchor": "middle", "frame": "bounds", "offset": 12, "dx": 6}
  }
}
